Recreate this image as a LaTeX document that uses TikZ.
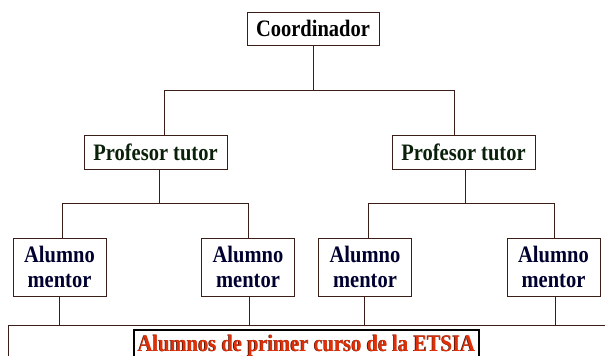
\documentclass[tikz,border=0pt]{standalone}
\usepackage{fontspec}
\usepackage{graphicx}
\setmainfont{Liberation Serif}
\definecolor{linebrown}{HTML}{3C1E19}
\definecolor{ptgreen}{HTML}{0A200A}
\definecolor{amnavy}{HTML}{000030}
\definecolor{etsred}{HTML}{E0300A}
\definecolor{etsdark}{HTML}{3A0A00}
\newcommand\vstretch[1]{\scalebox{1}[1.15]{#1}}
\newcommand\twolines[2]{\raisebox{-3pt}[\height][\depth]{\vstretch{\begin{tabular}{@{}c@{}}#1\\#2\end{tabular}}}}
\begin{document}
\begin{tikzpicture}[x=1pt,y=-1pt,
  box/.style={draw=linebrown, line width=1pt, fill=white, inner sep=0pt, align=center,
    font=\fontsize{20.5}{22}\selectfont\bfseries},
  ptbox/.style={box, minimum width=143pt, minimum height=34pt, text=ptgreen},
  ambox/.style={box, minimum width=93pt, minimum height=58pt, text=amnavy},
  conn/.style={draw=linebrown, line width=1pt}]
\useasboundingbox (0,0) rectangle (605,356);
\clip (0,0) rectangle (605,356);
\fill[white] (0,0) rectangle (605,356);
% nodes
\node[box, minimum width=132pt, minimum height=33pt, text=black] (coord) at (313,28.5) {\vstretch{Coordinador}};
\node[ptbox] (pt1) at (155.5,152) {\vstretch{Profesor tutor}};
\node[ptbox] (pt2) at (463.5,152) {\vstretch{Profesor tutor}};
\node[ambox] (am1) at (59.5,267) {\twolines{Alumno}{mentor}};
\node[ambox] (am2) at (248,267) {\twolines{Alumno}{mentor}};
\node[ambox] (am3) at (365,267) {\twolines{Alumno}{mentor}};
\node[ambox] (am4) at (553.5,267) {\twolines{Alumno}{mentor}};
\node[draw=linebrown, line width=1pt, inner sep=0pt, minimum width=640pt, minimum height=60pt, anchor=north west] (base) at (8,325) {};
% junctions
\coordinate (j0) at (313,90);
\coordinate (a1) at (164,90);
\coordinate (a2) at (454,90);
\coordinate (b1) at (159,203);
\coordinate (b1l) at (62,203);
\coordinate (b1r) at (248,203);
\coordinate (b2) at (465,203);
\coordinate (b2l) at (368,203);
\coordinate (b2r) at (554,203);
\coordinate (c1) at (59,325);
\coordinate (c2) at (249,325);
\coordinate (c3) at (364,325);
\coordinate (c4) at (555,325);
% connectors
\draw[conn] (coord.south) -- (j0);
\draw[conn] (a1) -- (a2);
\draw[conn] (a1) -- (a1 |- pt1.north);
\draw[conn] (a2) -- (a2 |- pt2.north);
\draw[conn] (pt1.south -| b1) -- (b1);
\draw[conn] (b1l) -- (b1r);
\draw[conn] (b1l) -- (b1l |- am1.north);
\draw[conn] (b1r) -- (b1r |- am2.north);
\draw[conn] (pt2.south -| b2) -- (b2);
\draw[conn] (b2l) -- (b2r);
\draw[conn] (b2l) -- (b2l |- am3.north);
\draw[conn] (b2r) -- (b2r |- am4.north);
\draw[conn] (am1.south -| c1) -- (c1);
\draw[conn] (am2.south -| c2) -- (c2);
\draw[conn] (am3.south -| c3) -- (c3);
\draw[conn] (am4.south -| c4) -- (c4);
% label
\node[draw=black, line width=2pt, fill=white, inner sep=0pt, minimum width=345pt, minimum height=32pt] (label) at (306.5,346) {};
\node[inner sep=0pt, text=etsdark, font=\fontsize{20.5}{22}\selectfont\bfseries] (labsh) at ([xshift=-0.6pt,yshift=0.4pt]label.center) {\vstretch{Alumnos de primer curso de la ETSIA}};
\node[inner sep=0pt, text=etsred, font=\fontsize{20.5}{22}\selectfont\bfseries] (labtx) at (label.center) {\vstretch{Alumnos de primer curso de la ETSIA}};
\end{tikzpicture}
\end{document}
